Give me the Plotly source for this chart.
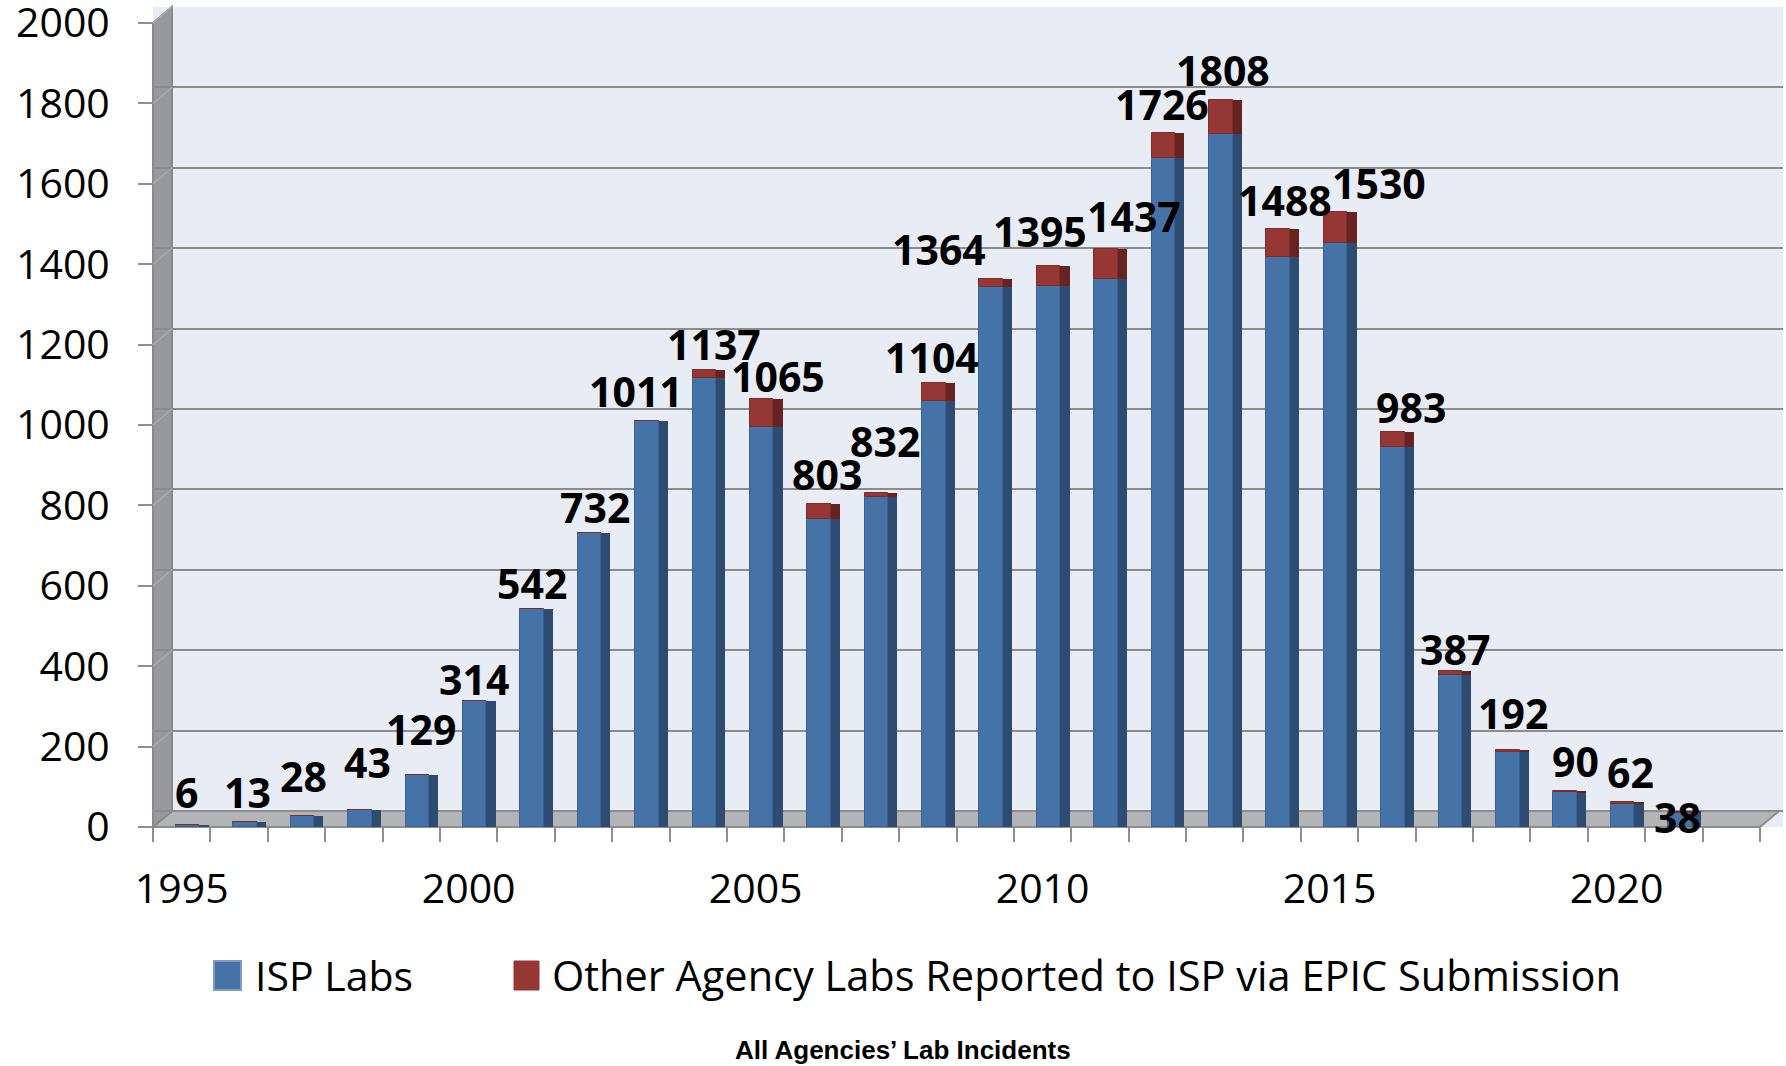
import plotly.graph_objects as go

# ---------------- data ----------------
years = list(range(1995, 2022))
isp_labs = [6, 13, 28, 43, 129, 314, 542, 732, 1011, 1118, 995, 767, 822, 1061,
            1343, 1347, 1364, 1664, 1723, 1419, 1454, 945, 377, 187, 86, 58, 35]
other_labs = [0, 0, 0, 0, 0, 0, 0, 0, 0, 19, 70, 36, 10, 43,
              21, 48, 73, 62, 85, 69, 76, 38, 10, 5, 4, 4, 3]
totals = [6, 13, 28, 43, 129, 314, 542, 732, 1011, 1137, 1065, 803, 832, 1104,
          1364, 1395, 1437, 1726, 1808, 1488, 1530, 983, 387, 192, 90, 62, 38]
x_tick_years = [1995, 2000, 2005, 2010, 2015, 2020]
y_ticks = list(range(0, 2001, 200))
series_names = ["ISP Labs", "Other Agency Labs Reported to ISP via EPIC Submission"]
title_text = "All Agencies’ Lab Incidents"

# label nudges in pixels (style only): horizontal shift, height above bar top
label_dx = [-1, 2, 1, 8, 4, -1, 0, 6, -11, 10, 16, 8, 9, -2,
            -52, -9, 28, -1, 2, 7, 43, 18, 5, 5, 10, 8, -2]
label_dy = [33, 30, 40, 48, 46, 22, 26, 26, 30, 26, 23, 30, 52, 26,
            30, 35, 33, 29, 30, 29, 29, 25, 22, 37, 30, 30, -5]

# ---------------- layout geometry ----------------
W, H = 1786, 1066
L, R, T, B = 153, 1783, 7, 827          # plot area in pixels
PW, PH = R - L, B - T
DEPTH = 40                               # back-wall offset in y units


def px(xp):
    return (xp - L) / PW


def py(yp):
    return (B - yp) / PH


BLUE, BLUE_SIDE = "#4572A7", "#2E4C72"
RED, RED_SIDE = "#953735", "#662321"
FONT = "Open Sans"

fig = go.Figure()

# side faces (drawn first, behind)
fig.add_trace(go.Bar(x=years, y=isp_labs, base=0, width=0.57, offset=-0.1,
                     marker=dict(color=BLUE_SIDE, line=dict(width=0)),
                     showlegend=False, hoverinfo="skip"))
fig.add_trace(go.Bar(x=years, y=other_labs, base=isp_labs, width=0.57, offset=-0.1,
                     marker=dict(color=RED_SIDE, line=dict(width=0)),
                     showlegend=False, hoverinfo="skip"))
# front faces
fig.add_trace(go.Bar(x=years, y=isp_labs, base=0, width=0.41, offset=-0.1,
                     name=series_names[0],
                     marker=dict(color=BLUE, line=dict(color="#3A6294", width=1)),
                     showlegend=False))
fig.add_trace(go.Bar(x=years, y=other_labs, base=isp_labs, width=0.41, offset=-0.1,
                     name=series_names[1],
                     marker=dict(color=RED, line=dict(color="#7E2D2B", width=1)),
                     showlegend=False))
# carrier for the back-wall grid axis
fig.add_trace(go.Scatter(x=[None], y=[None], yaxis="y2", showlegend=False,
                         hoverinfo="skip"))

# data labels
annotations = []
for yr, tot, dx, dy in zip(years, totals, label_dx, label_dy):
    annotations.append(dict(x=yr + 0.105, y=tot, xref="x", yref="y",
                            text=f"<b>{tot}</b>", showarrow=False,
                            xshift=dx, yshift=dy, yanchor="middle",
                            font=dict(family=FONT, size=41, color="black")))

# manual legend (large swatches like the original)
annotations.append(dict(x=px(253), y=py(975), xref="paper", yref="paper",
                        xanchor="left", yanchor="middle", showarrow=False,
                        text=series_names[0],
                        font=dict(family=FONT, size=41, color="black")))
annotations.append(dict(x=px(550), y=py(975), xref="paper", yref="paper",
                        xanchor="left", yanchor="middle", showarrow=False,
                        text=series_names[1],
                        font=dict(family=FONT, size=41.5, color="black")))
# caption
annotations.append(dict(x=px(903), y=py(1050), xref="paper", yref="paper",
                        xanchor="center", yanchor="middle", showarrow=False,
                        text=f"<b>{title_text}</b>",
                        font=dict(family="Liberation Sans", size=26, color="black")))

shapes = [
    # floor
    dict(type="path", xref="paper", yref="paper", layer="between",
         path=f"M{px(153)},{py(827)} L{px(172)},{py(811)} L{px(1779)},{py(811)} "
              f"L{px(1760)},{py(827)} Z",
         fillcolor="#B2B4B8", line=dict(color="#8E8E8E", width=2)),
    # left side wall
    dict(type="path", xref="paper", yref="paper", layer="between",
         path=f"M{px(153)},{py(827)} L{px(153)},{py(23)} L{px(172)},{py(7)} "
              f"L{px(172)},{py(811)} Z",
         fillcolor="#97999D", line=dict(color="#8A8A8A", width=2)),
    # legend swatches
    dict(type="rect", xref="paper", yref="paper",
         x0=px(214), x1=px(241), y0=py(961), y1=py(990),
         fillcolor=BLUE, line=dict(color="#7E9BC6", width=2)),
    dict(type="rect", xref="paper", yref="paper",
         x0=px(514), x1=px(539), y0=py(961), y1=py(990),
         fillcolor=RED, line=dict(color=RED, width=1)),
]
# grid continuations across the side wall (front tick -> back wall)
for v in y_ticks[1:]:
    shapes.append(dict(type="line", xref="paper", yref="y", layer="above",
                       x0=px(153), x1=px(172), y0=v, y1=v + DEPTH,
                       line=dict(color="#A9A9AB", width=1.5)))

fig.update_layout(
    template="none",
    width=W, height=H,
    margin=dict(l=L, r=W - R, t=T, b=H - B, pad=0, autoexpand=False),
    paper_bgcolor="white",
    plot_bgcolor="#E8ECF4",
    barmode="overlay",
    bargap=0,
    showlegend=False,
    font=dict(family=FONT, size=41, color="black"),
    xaxis=dict(range=[1994.5, 2022.9], tickvals=x_tick_years, automargin=False,
               showgrid=False, zeroline=False, showline=False,
               ticks="", ticklabelstandoff=34, ticklabeloverflow="allow",
               tickfont=dict(family=FONT, size=41, color="black"),
               minor=dict(tick0=1994.5, dtick=1, ticks="outside", ticklen=14,
                          tickwidth=2, tickcolor="#8E8E8E", showgrid=False)),
    yaxis=dict(range=[0, 2040], tickvals=y_ticks, showgrid=False, automargin=False,
               zeroline=False, showline=False, ticks="outside", ticklen=14,
               tickwidth=2, tickcolor="#8E8E8E", ticklabelstandoff=20,
               ticklabeloverflow="allow",
               tickfont=dict(family=FONT, size=41, color="black")),
    yaxis2=dict(range=[-DEPTH, 2040 - DEPTH], overlaying="y", tickvals=y_ticks,
                automargin=False, showgrid=True, gridcolor="#8C8C8C", gridwidth=2,
                showticklabels=False, ticks="", zeroline=False, showline=False),
    annotations=annotations,
    shapes=shapes,
)

# remove the browser's default 8px body margin so the figure sits at (0, 0)
fig.write_html("out.html",
               config={"displayModeBar": False},
               post_script="document.body.style.margin='0';"
                           "document.body.style.overflow='hidden';")
